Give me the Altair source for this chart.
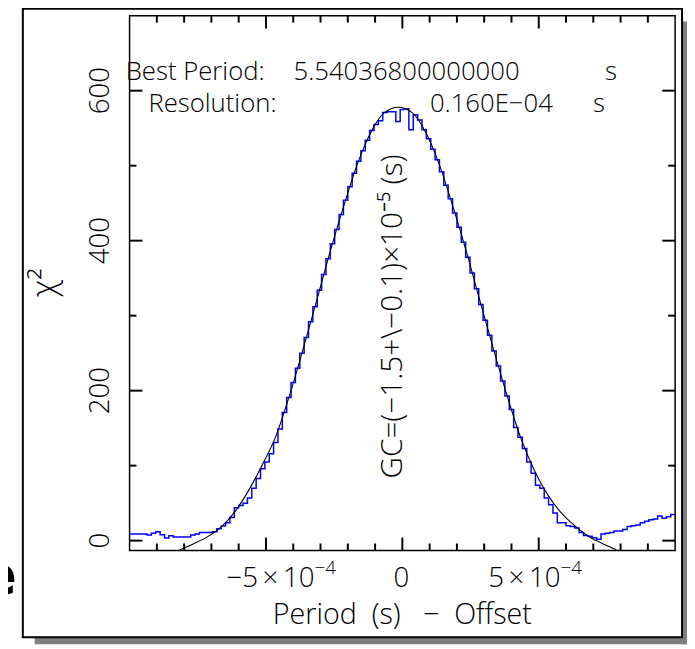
import altair as alt
import pandas as pd

FONT = "Open Sans"
FW = 300
NB = "\u00a0"
TH = "\u2009"

# ---------------- data ----------------
# chi^2 of each trial period bin (bin width = resolution 0.16e-4 s)
bin_width_e4 = 0.16
bin_start_e4 = -10.0
chi2_blue = [
    9, 9, 9, 9, 7.5, 10, 12, 8, 3.5, 6.5,
    5, 5, 5, 5, 7.5, 9, 11, 11, 11, 12,
    16, 19.5, 24, 31, 44, 47, 50, 57, 70, 83,
    96, 105, 116, 131, 149, 171, 191, 211, 230, 250,
    271, 292, 312, 334, 355, 376, 396, 415, 435, 454,
    472, 490, 506, 520, 534, 547, 555, 560, 571, 572,
    572, 559, 575, 576, 548, 568, 561, 548, 536, 522,
    508, 492, 474, 456, 437, 418, 398, 378, 357, 336,
    315, 294, 274, 253, 233, 213, 193, 175, 151, 138,
    123, 105, 90, 74, 70, 57, 48, 37, 24, 24,
    20, 19, 17, 11, 7, 6, 4, 2, 9, 10,
    11, 13, 13, 15, 19, 20, 21, 24, 26, 28,
    29, 33, 30, 32, 35,
]

# fitted curve (black), x in units of 1e-4 s
fit_x_e4 = [-8.15, -7.65, -7.15, -6.65, -6.15, -5.65, -5.15, -4.65, -4.15, -3.65,
            -3.15, -2.65, -2.15, -1.65, -1.15, -0.65, -0.15, 0.35, 0.85, 1.35,
            1.85, 2.35, 2.85, 3.35, 3.85, 4.35, 4.85, 5.35, 5.85, 6.35,
            6.85, 7.35, 7.85]
fit_chi2 = [-12, -4, 5, 18, 38, 66, 100, 138, 192, 254,
            319, 385, 446, 502, 545, 571, 578, 571, 545, 502,
            446, 385, 319, 254, 192, 136, 93, 60, 36, 19,
            5, -4, -12]

# ticks
x_major = [-5e-4, 0.0, 5e-4]
x_minor = [-9e-4, -8e-4, -7e-4, -6e-4, -4e-4, -3e-4, -2e-4, -1e-4,
           1e-4, 2e-4, 3e-4, 4e-4, 6e-4, 7e-4, 8e-4, 9e-4]
y_major = [0, 200, 400, 600]
y_minor = [100, 300, 500]

# tick labels (x: mantissa part + exponent part, joined at xt_join)
xt_base = ["−5" + TH + "×" + TH + "10", "0", "5" + TH + "×" + TH + "10"]
xt_exp = ["−4", "", "−4"]
xt_join = [-3.22e-4, 0.25e-4, 5.80e-4]
xt_base_y = -61.8
xt_exp_y = -44.5
yt_labels = ["0", "200", "400", "600"]
yt_x = -10.76e-4

# axis titles
x_title = ["Period" + NB * 2 + "(s)" + NB * 3 + "−" + NB * 2 + "Offset"]
x_title_x = [0.0]
x_title_y = [-110.6]
y_title = ["χ²"]
y_title_x = [-13.1e-4]
y_title_y = [344]

# annotations
annot_text = ["Best Period:", "5.54036800000000", "s", "Resolution:", "0.160E−04", "s"]
annot_x = [-10.14e-4, -3.99e-4, 7.43e-4, -9.31e-4, 1.01e-4, 6.99e-4]
annot_y = [614, 614, 614, 572, 572, 572]

gc_text = ["GC=(−1.5+\\−0.1)×10⁻⁵ (s)"]
gc_x = [0.0]
gc_y = [83]

# ---------------- layout / scales ----------------
W, H = 552, 541
X_DOM = [-10e-4, 10e-4]
Y_DOM = [-13, 700]
xscale = alt.Scale(domain=X_DOM, nice=False, zero=False)
yscale = alt.Scale(domain=Y_DOM, nice=False, zero=False)
px_x = (X_DOM[1] - X_DOM[0]) / W     # data units per pixel
px_y = (Y_DOM[1] - Y_DOM[0]) / H
MAJ, MIN = 13, 7                     # tick lengths in pixels

# ---------------- tables ----------------
n = len(chi2_blue)
blue_x = [(bin_start_e4 + bin_width_e4 * k) * 1e-4 for k in range(n)]
blue_df = pd.DataFrame({"x": blue_x + [(bin_start_e4 + bin_width_e4 * n) * 1e-4],
                        "chi2": chi2_blue + [chi2_blue[-1]]})
fit_df = pd.DataFrame({"x": [v * 1e-4 for v in fit_x_e4], "chi2": fit_chi2})
annot_df = pd.DataFrame({"x": annot_x, "y": annot_y, "t": annot_text})
gc_df = pd.DataFrame({"x": gc_x, "y": gc_y, "t": gc_text})
xt_df = pd.DataFrame({"x": xt_join, "base": xt_base, "exp": xt_exp,
                      "yb": [xt_base_y] * 3, "ye": [xt_exp_y] * 3})
yt_df = pd.DataFrame({"y": y_major, "t": yt_labels, "x": [yt_x] * len(y_major)})
xtitle_df = pd.DataFrame({"x": x_title_x, "y": x_title_y, "t": x_title})
ytitle_df = pd.DataFrame({"x": y_title_x, "y": y_title_y, "t": y_title})

# ticks as two-point line segments (id groups the two ends)
tick_rows = []
tid = 0


def seg(x0, y0, x1, y1):
    global tid
    tick_rows.append({"id": tid, "o": 0, "x": x0, "y": y0})
    tick_rows.append({"id": tid, "o": 1, "x": x1, "y": y1})
    tid += 1


for v in x_major + x_minor:
    L = MAJ if v in x_major else MIN
    seg(v, Y_DOM[0], v, Y_DOM[0] + L * px_y)
    seg(v, Y_DOM[1], v, Y_DOM[1] - L * px_y)
for v in y_major + y_minor:
    L = MAJ if v in y_major else MIN
    seg(X_DOM[0], v, X_DOM[0] + L * px_x, v)
    seg(X_DOM[1], v, X_DOM[1] - L * px_x, v)
tick_df = pd.DataFrame(tick_rows)
one = pd.DataFrame({"a": [0]})


def X(field):
    return alt.X(field, type="quantitative", scale=xscale, axis=None)


def Y(field):
    return alt.Y(field, type="quantitative", scale=yscale, axis=None)


# ---------------- decorations (outer frame with shadow) ----------------
shadow_bottom = alt.Chart(one).mark_rect(color="#7f7f7f").encode(
    x=alt.value(-96), x2=alt.value(564), y=alt.value(629), y2=alt.value(636))
shadow_right = alt.Chart(one).mark_rect(color="#7f7f7f").encode(
    x=alt.value(559), x2=alt.value(564), y=alt.value(6), y2=alt.value(636))
frame = alt.Chart(one).mark_rect(filled=False, stroke="black", strokeWidth=2).encode(
    x=alt.value(-108), x2=alt.value(559), y=alt.value(-7), y2=alt.value(629))
frag = alt.Chart(one).mark_text(text="e", font="DejaVu Sans", fontWeight="bold",
                                fontSize=55, align="right", baseline="alphabetic",
                                color="black").encode(x=alt.value(-114), y=alt.value(585))

txt = dict(font=FONT, fontWeight=FW, color="black")

xt_base_layer = alt.Chart(xt_df).mark_text(align="right", baseline="alphabetic",
                                           fontSize=28, **txt).encode(
    x=X("x"), y=Y("yb"), text="base:N")
xt_exp_layer = alt.Chart(xt_df).mark_text(align="left", baseline="alphabetic",
                                          fontSize=19, **txt).encode(
    x=X("x"), y=Y("ye"), text="exp:N")
yt_layer = alt.Chart(yt_df).mark_text(align="center", baseline="alphabetic", angle=270,
                                      fontSize=28, **txt).encode(
    x=X("x"), y=Y("y"), text="t:N")
xtitle_layer = alt.Chart(xtitle_df).mark_text(align="center", baseline="alphabetic",
                                              fontSize=29, **txt).encode(
    x=X("x"), y=Y("y"), text="t:N")
ytitle_layer = alt.Chart(ytitle_df).mark_text(align="center", baseline="middle", angle=270,
                                              fontSize=34, **txt).encode(
    x=X("x"), y=Y("y"), text="t:N")

# ---------------- data layers ----------------
blue = alt.Chart(blue_df).mark_line(interpolate="step-after", color="#0000ff",
                                    strokeWidth=1.5, clip=True).encode(
    x=X("x"), y=Y("chi2"))
fit = alt.Chart(fit_df).mark_line(interpolate="monotone", color="black",
                                  strokeWidth=1.1, clip=True).encode(
    x=X("x"), y=Y("chi2"))
annots = alt.Chart(annot_df).mark_text(align="left", baseline="alphabetic",
                                       fontSize=26, **txt).encode(
    x=X("x"), y=Y("y"), text="t:N")
gc = alt.Chart(gc_df).mark_text(align="left", baseline="alphabetic", angle=270,
                                fontSize=30, **txt).encode(
    x=X("x"), y=Y("y"), text="t:N")

# ---------------- inward ticks on all four sides (drawn last, on top) ----------------
ticks = alt.Chart(tick_df).mark_line(color="#000000", strokeWidth=2, opacity=1).encode(
    x=X("x"), y=Y("y"), detail="id:N", order="o:Q")

chart = alt.layer(
    shadow_bottom, shadow_right, frame, frag,
    xt_base_layer, xt_exp_layer, yt_layer, xtitle_layer, ytitle_layer,
    blue, fit, annots, gc, ticks,
).properties(
    width=W, height=H,
    padding={"left": 123, "top": 4, "right": 12, "bottom": 96},
    autosize=alt.AutoSizeParams(type="none"),
    background="white",
).configure_view(stroke="black", strokeWidth=1.5)

chart.save("out.html", embed_options={"renderer": "svg", "actions": False})
